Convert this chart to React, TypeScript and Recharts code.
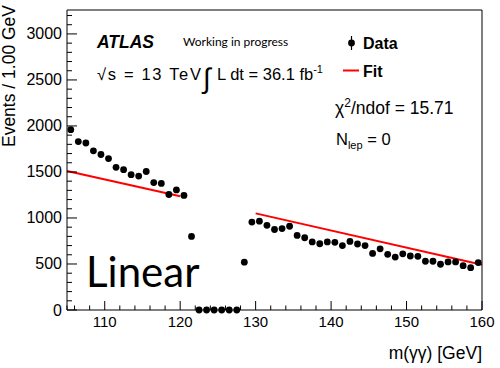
import React from "react";
import { ComposedChart, Scatter, Line, XAxis, YAxis } from "recharts";

// diphoton mass bins (GeV) and event counts
const massBins = [
	105.5, 106.5, 107.5, 108.5, 109.5, 110.5, 111.5, 112.5, 113.5, 114.5, 115.5,
	116.5, 117.5, 118.5, 119.5, 120.5, 121.5, 122.5, 123.5, 124.5, 125.5, 126.5,
	127.5, 128.5, 129.5, 130.5, 131.5, 132.5, 133.5, 134.5, 135.5, 136.5, 137.5,
	138.5, 139.5, 140.5, 141.5, 142.5, 143.5, 144.5, 145.5, 146.5, 147.5, 148.5,
	149.5, 150.5, 151.5, 152.5, 153.5, 154.5, 155.5, 156.5, 157.5, 158.5, 159.5,
];
const events = [
	1960, 1830, 1815, 1730, 1690, 1645, 1550, 1525, 1470, 1455, 1505,
	1385, 1375, 1255, 1305, 1245, 800, 0, 0, 0, 0, 0,
	0, 520, 955, 965, 920, 875, 885, 910, 810, 785, 740,
	720, 740, 735, 700, 745, 717, 700, 615, 665, 605, 575,
	610, 587, 583, 530, 530, 497, 522, 522, 482, 460, 515,
];

// linear fit, two sidebands
const fitLowX = [105, 120];
const fitLowY = [1510, 1235];
const fitHighX = [130, 160];
const fitHighY = [1050, 492];

const xTicks = [
	106, 108, 110, 112, 114, 116, 118, 120, 122, 124, 126, 128, 130, 132, 134,
	136, 138, 140, 142, 144, 146, 148, 150, 152, 154, 156, 158, 160,
];
const xLabels = [110, 120, 130, 140, 150, 160];
const yTicks = [
	100, 200, 300, 400, 500, 600, 700, 800, 900, 1000, 1100, 1200, 1300, 1400,
	1500, 1600, 1700, 1800, 1900, 2000, 2100, 2200, 2300, 2400, 2500, 2600, 2700,
	2800, 2900, 3000, 3100, 3200,
];
const yLabels = [0, 500, 1000, 1500, 2000, 2500, 3000];

const points = massBins.map((m, i) => ({ x: m, y: events[i] }));
const fitLow = fitLowX.map((x, i) => ({ x, y: fitLowY[i] }));
const fitHigh = fitHighX.map((x, i) => ({ x, y: fitHighY[i] }));

const FONT = "'Liberation Sans', Arial, sans-serif";

const XTick = ({ x, y, payload, top }: any) => {
	const v = payload.value;
	const major = xLabels.includes(v);
	const len = major ? 9 : 4.5;
	return (
		<g>
			<line x1={x} x2={x} y1={y} y2={top ? y + len : y - len} stroke="#000" />
			{!top && major && (
				<text x={x} y={y + 17} textAnchor="middle" fontSize={15} fontFamily={FONT} fill="#000">
					{v}
				</text>
			)}
		</g>
	);
};

const YTick = ({ x, y, payload, right }: any) => {
	const v = payload.value;
	const major = yLabels.includes(v);
	const len = major ? 10 : 5;
	return (
		<g>
			<line x1={x} x2={right ? x - len : x + len} y1={y} y2={y} stroke="#000" />
			{!right && major && (
				<text x={x - 5} y={y + 5.5} textAnchor="end" fontSize={16} fontFamily={FONT} fill="#000">
					{v}
				</text>
			)}
		</g>
	);
};

const Dot = (p: any) => <circle cx={p.cx} cy={p.cy} r={3.4} fill="#000" />;

export default function App() {
	return (
		<div style={{ position: "absolute", left: 0, top: 0, width: 500, height: 368, background: "#fff" }}>
			<ComposedChart
				width={500}
				height={368}
				margin={{ top: 9, right: 17, bottom: 57, left: 66 }}
			>
				<XAxis
					dataKey="x"
					type="number"
					domain={[105, 160]}
					ticks={[105, ...xTicks]}
					interval={0}
					height={1}
					tickSize={0}
					tickMargin={0}
					tickLine={false}
					axisLine={{ stroke: "#000" }}
					tick={(p: any) => <XTick {...p} top={false} />}
				/>
				<XAxis
					xAxisId="top"
					orientation="top"
					type="number"
					domain={[105, 160]}
					ticks={xTicks}
					interval={0}
					height={1}
					tickSize={0}
					tickMargin={0}
					tickLine={false}
					axisLine={{ stroke: "#000" }}
					tick={(p: any) => <XTick {...p} top={true} />}
				/>
				<YAxis
					type="number"
					domain={[0, 3260]}
					ticks={[0, ...yTicks]}
					interval={0}
					width={1}
					tickSize={0}
					tickMargin={0}
					tickLine={false}
					axisLine={{ stroke: "#000" }}
					tick={(p: any) => <YTick {...p} right={false} />}
				/>
				<YAxis
					yAxisId="right"
					orientation="right"
					type="number"
					domain={[0, 3260]}
					ticks={yTicks}
					interval={0}
					width={1}
					tickSize={0}
					tickMargin={0}
					tickLine={false}
					axisLine={{ stroke: "#000" }}
					tick={(p: any) => <YTick {...p} right={true} />}
				/>
				<Line data={fitLow} dataKey="y" stroke="#ff0000" strokeWidth={2} dot={false} isAnimationActive={false} />
				<Line data={fitHigh} dataKey="y" stroke="#ff0000" strokeWidth={2} dot={false} isAnimationActive={false} />
				<Scatter data={points} dataKey="y" shape={Dot} isAnimationActive={false} />
			</ComposedChart>

			<svg
				width={500}
				height={368}
				style={{ position: "absolute", left: 0, top: 0, pointerEvents: "none" }}
				fontFamily={FONT}
			>
				{/* axis titles */}
				<text transform="translate(15,5) rotate(-90)" textAnchor="end" fontSize={17.5} fill="#000">
					Events / 1.00 GeV
				</text>
				<text x={482} y={359} textAnchor="end" fontSize={17.5} fill="#000">
					m(γγ) [GeV]
				</text>

				{/* ATLAS label */}
				<text x={97} y={48} fontSize={17.5} fontWeight="bold" fontStyle="italic" fill="#000">
					ATLAS
				</text>
				<text x={183} y={46} fontSize={12} fontFamily="Lato, sans-serif" fill="#000">
					Working in progress
				</text>
				<text x={97} y={80} fontSize={16.5} textLength={104} lengthAdjust="spacing" fill="#000">
					√s = 13 TeV
				</text>
				<text x={203} y={88} fontSize={28} fill="#000">
					∫
				</text>
				<text x={217} y={80} fontSize={16.5} fill="#000">
					L dt = 36.1 fb
					<tspan dy={-7} fontSize={11}>-1</tspan>
				</text>

				{/* legend */}
				<line x1={351.5} x2={351.5} y1={36} y2={50} stroke="#000" strokeWidth={1.2} />
				<circle cx={351.5} cy={43} r={3.4} fill="#000" />
				<text x={363} y={49} fontSize={16} fontWeight="bold" fill="#000">
					Data
				</text>
				<line x1={343} x2={359} y1={70.5} y2={70.5} stroke="#ff0000" strokeWidth={2} />
				<text x={363} y={77} fontSize={16} fontWeight="bold" fill="#000">
					Fit
				</text>

				<text x={335} y={114} fontSize={17.5} fill="#000">
					χ<tspan dy={-7} fontSize={12}>2</tspan>
					<tspan dy={7}>/ndof = 15.71</tspan>
				</text>
				<text x={336} y={145} fontSize={16.5} fill="#000">
					N<tspan dy={4} fontSize={11}>lep</tspan>
					<tspan dy={-4}> = 0</tspan>
				</text>

				<text x={86} y={287} fontSize={42} fontFamily="Lato, sans-serif" fill="#000">
					Linear
				</text>
			</svg>
		</div>
	);
}
